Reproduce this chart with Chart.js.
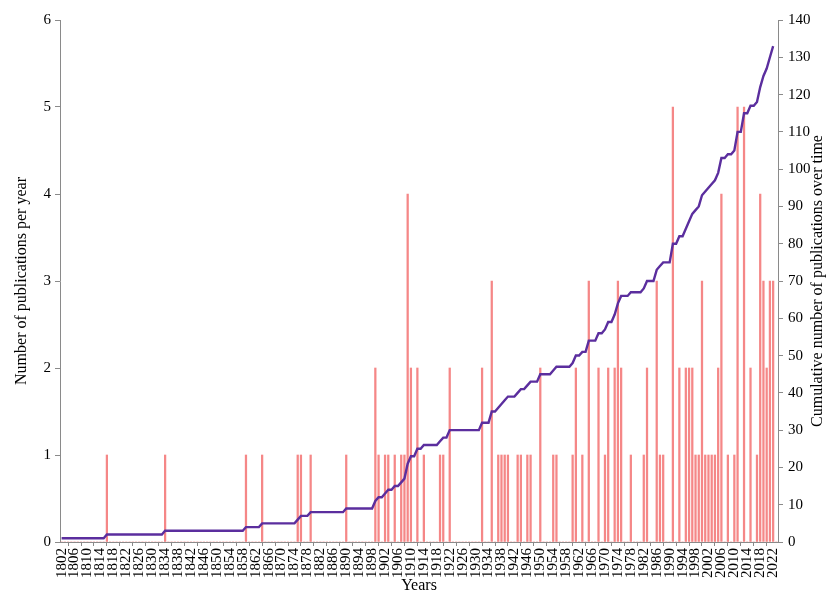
<!DOCTYPE html>
<html>
<head>
<meta charset="utf-8">
<script src="https://cdn.jsdelivr.net/npm/chart.js@4.4.1/dist/chart.umd.min.js"></script>
<style>
  html, body { margin: 0; padding: 0; background: #ffffff; }
  #wrap { width: 828px; height: 607px; }
</style>
</head>
<body>
<div id="wrap"><canvas id="chart" width="828" height="607"></canvas></div>
<script>
// Year categories, 1802 through 2023
const firstYear = 1802;
const lastYear = 2023;
const years = [];
for (let y = firstYear; y <= lastYear; y++) years.push(String(y));

// Publications per year (left axis), one value per year from 1802
const perYear = [
  0,0,0,0,0,0,0,0,                 // 1802-1809
  0,0,0,0,0,0,1,0,0,0,             // 1810s
  0,0,0,0,0,0,0,0,0,0,             // 1820s
  0,0,0,0,1,0,0,0,0,0,             // 1830s
  0,0,0,0,0,0,0,0,0,0,             // 1840s
  0,0,0,0,0,0,0,0,0,1,             // 1850s
  0,0,0,0,1,0,0,0,0,0,             // 1860s
  0,0,0,0,0,1,1,0,0,1,             // 1870s
  0,0,0,0,0,0,0,0,0,0,             // 1880s
  1,0,0,0,0,0,0,0,0,2,             // 1890s
  1,0,1,1,0,1,0,1,1,4,             // 1900s
  2,0,2,0,1,0,0,0,0,1,             // 1910s
  1,0,2,0,0,0,0,0,0,0,             // 1920s
  0,0,2,0,0,3,0,1,1,1,             // 1930s
  1,0,0,1,1,0,1,1,0,0,             // 1940s
  2,0,0,0,1,1,0,0,0,0,             // 1950s
  1,2,0,1,0,3,0,0,2,0,             // 1960s
  1,2,0,2,3,2,0,0,1,0,             // 1970s
  0,0,1,2,0,0,3,1,1,0,             // 1980s
  0,5,0,2,0,2,2,2,1,1,             // 1990s
  3,1,1,1,1,2,4,0,1,0,             // 2000s
  1,5,0,5,0,2,0,1,4,3,             // 2010s
  2,3,3,0                          // 2020-2023
];

// Cumulative number of publications (right axis)
const cumulative = [
  1,1,1,1,1,1,1,1,                         // 1802-1809
  1,1,1,1,1,1,2,2,2,2,                     // 1810s
  2,2,2,2,2,2,2,2,2,2,                     // 1820s
  2,2,2,2,3,3,3,3,3,3,                     // 1830s
  3,3,3,3,3,3,3,3,3,3,                     // 1840s
  3,3,3,3,3,3,3,3,3,4,                     // 1850s
  4,4,4,4,5,5,5,5,5,5,                     // 1860s
  5,5,5,5,5,6,7,7,7,8,                     // 1870s
  8,8,8,8,8,8,8,8,8,8,                     // 1880s
  9,9,9,9,9,9,9,9,9,11,                    // 1890s
  12,12,13,14,14,15,15,16,17,21,           // 1900s
  23,23,25,25,26,26,26,26,26,27,           // 1910s
  28,28,30,30,30,30,30,30,30,30,           // 1920s
  30,30,32,32,32,35,35,36,37,38,           // 1930s
  39,39,39,40,41,41,42,43,43,43,           // 1940s
  45,45,45,45,46,47,47,47,47,47,           // 1950s
  48,50,50,51,51,54,54,54,56,56,           // 1960s
  57,59,59,61,64,66,66,66,67,67,           // 1970s
  67,67,68,70,70,70,73,74,75,75,           // 1980s
  75,80,80,82,82,84,86,88,89,90,           // 1990s
  93,94,95,96,97,99,103,103,104,104,       // 2000s
  105,110,110,115,115,117,117,118,122,125, // 2010s
  127,130,133,null                         // 2020-2023
];

const leftTicks = [0, 1, 2, 3, 4, 5, 6];
const rightMax = 140;
const rightStep = 10;

const serif = '"Liberation Serif", "Times New Roman", serif';
const axisGrey = '#8a8a8a';

// Secondary-axis title, rotated to read bottom-to-top like the primary one
const cumAxisTitle = {
  id: 'cumAxisTitle',
  afterDraw(chart) {
    const { ctx, chartArea } = chart;
    ctx.save();
    ctx.translate(chartArea.right + 40, (chartArea.top + chartArea.bottom) / 2);
    ctx.rotate(-Math.PI / 2);
    ctx.font = '16px ' + serif;
    ctx.fillStyle = '#000000';
    ctx.textAlign = 'center';
    ctx.textBaseline = 'middle';
    ctx.fillText('Cumulative number of publications over time', 0, 0);
    ctx.restore();
  }
};

new Chart(document.getElementById('chart').getContext('2d'), {
  data: {
    labels: years,
    datasets: [
      {
        type: 'line',
        label: 'Cumulative number of publications over time',
        data: cumulative,
        yAxisID: 'yCum',
        borderColor: '#5b2e9e',
        borderWidth: 2.4,
        pointRadius: 0,
        tension: 0,
        fill: false,
        order: 0
      },
      {
        type: 'bar',
        label: 'Number of publications per year',
        data: perYear,
        yAxisID: 'yYear',
        backgroundColor: 'rgb(245,135,135)',
        barThickness: 1.6,
        order: 1
      }
    ]
  },
  options: {
    responsive: false,
    animation: false,
    layout: { padding: { top: 20, left: 0, right: 0, bottom: 0 } },
    plugins: { legend: { display: false }, tooltip: { enabled: false } },
    scales: {
      x: {
        type: 'category',
        offset: true,
        grid: { display: true, drawOnChartArea: false, drawTicks: true, tickLength: 4, color: axisGrey, offset: true },
        border: { display: true, color: axisGrey, width: 1 },
        ticks: {
          autoSkip: false,
          maxRotation: 90,
          minRotation: 90,
          padding: 2,
          color: '#000000',
          font: { family: serif, size: 15 },
          callback: (v, i) => (i % 4 === 0 ? years[i] : null)
        },
        title: { display: true, text: 'Years', color: '#000000', font: { family: serif, size: 16 }, padding: { top: 0, bottom: 12 } },
        afterFit: (s) => { s.height = 65; }
      },
      yYear: {
        position: 'left',
        min: 0,
        max: 6,
        afterBuildTicks: (s) => { s.ticks = leftTicks.map(v => ({ value: v })); },
        grid: { display: true, drawOnChartArea: false, drawTicks: true, tickLength: 5, color: axisGrey },
        border: { display: true, color: axisGrey, width: 1 },
        ticks: { color: '#000000', padding: 4, font: { family: serif, size: 15 } },
        title: { display: true, text: 'Number of publications per year', color: '#000000', font: { family: serif, size: 16 }, padding: { top: 12, bottom: 0 } },
        afterFit: (s) => { s.width = 60; }
      },
      yCum: {
        position: 'right',
        min: 0,
        max: rightMax,
        ticks: { stepSize: rightStep, color: '#000000', padding: 5, font: { family: serif, size: 15 } },
        grid: { display: true, drawOnChartArea: false, drawTicks: true, tickLength: 5, color: axisGrey },
        border: { display: true, color: axisGrey, width: 1 },
        afterFit: (s) => { s.width = 50; }
      }
    }
  },
  plugins: [cumAxisTitle]
});
</script>
</body>
</html>
